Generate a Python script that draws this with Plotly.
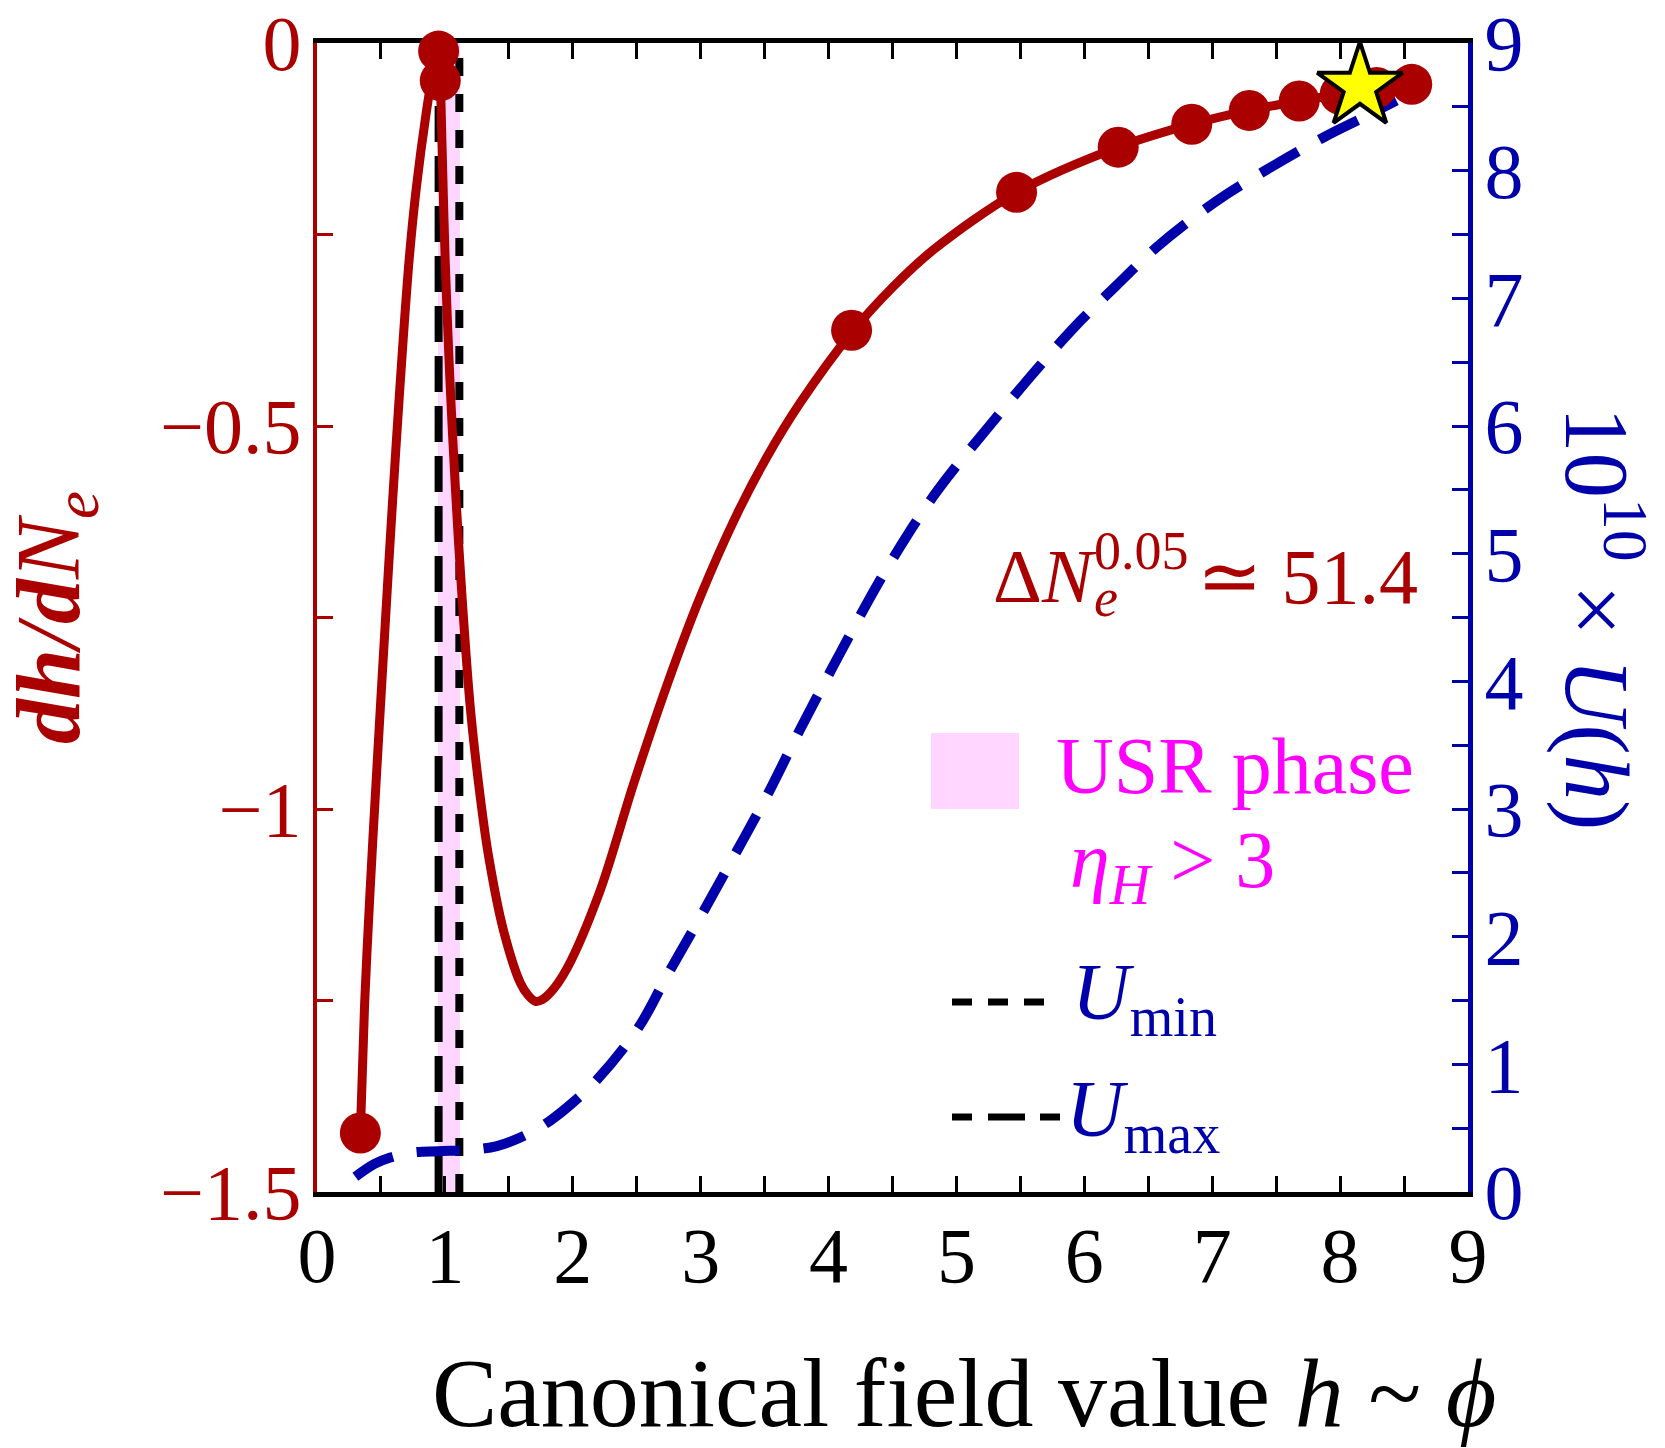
import plotly.graph_objects as go

# ---------------- data ----------------
# dh/dNe along the trajectory (left axis)
red_line_x = [0.339, 0.372, 0.414, 0.462, 0.512, 0.563, 0.617, 0.675, 0.722, 0.776, 0.855,
              0.89, 0.951, 0.964, 0.979, 1.003, 1.037, 1.081, 1.134, 1.199, 1.277, 1.342,
              1.459, 1.59, 1.65, 1.707, 1.76, 1.824, 1.955, 2.215, 2.476, 2.737, 2.997,
              3.284, 3.516, 3.777, 4.18, 4.506, 4.82, 5.47, 6.265, 6.84, 7.29, 7.68, 8.0,
              8.285, 8.56]
red_line_y = [-1.423, -1.256, -1.11, -0.965, -0.82, -0.675, -0.529, -0.384, -0.28, -0.19,
              -0.09, -0.054, -0.0106, -0.049, -0.142, -0.287, -0.432, -0.578, -0.723, -0.868,
              -0.985, -1.062, -1.159, -1.227, -1.243, -1.251, -1.249, -1.240, -1.208, -1.106,
              -0.967, -0.838, -0.723, -0.615, -0.541, -0.47, -0.378, -0.318, -0.27, -0.195,
              -0.136, -0.106, -0.088, -0.0757, -0.067, -0.058, -0.054]

# markers on the dh/dNe curve
dot_x = [0.339, 0.951, 0.964, 4.18, 5.47, 6.265, 6.84, 7.29, 7.68, 8.0, 8.285, 8.56]
dot_y = [-1.423, -0.0106, -0.049, -0.375, -0.195, -0.136, -0.106, -0.088, -0.0757, -0.067, -0.058, -0.054]

# pivot-scale star
star_x = [8.155]
star_y = [-0.057]

# potential 10^10 x U(h) (right axis)
pot_x = [0.30, 0.45, 0.573, 0.75, 0.95, 1.2, 1.407, 1.62, 1.824, 2.0, 2.19, 2.515, 2.74,
         2.99, 3.255, 3.516, 3.776, 4.09, 4.43, 4.82, 5.29, 5.65, 5.966, 6.25, 6.565,
         7.03, 7.43, 7.87, 8.21, 8.44]
pot_y = [0.12, 0.22, 0.27, 0.31, 0.32, 0.33, 0.36, 0.44, 0.56, 0.70, 0.88, 1.29, 1.70,
         2.14, 2.62, 3.10, 3.62, 4.22, 4.84, 5.45, 6.04, 6.47, 6.82, 7.10, 7.40,
         7.76, 8.01, 8.26, 8.43, 8.55]

# special field values
h_umax = 0.951
h_umin = 1.113
usr_band = [0.946, 1.118]

# ticks
x_ticks = [0, 1, 2, 3, 4, 5, 6, 7, 8, 9]
x_ticktext = ["0", "1", "2", "3", "4", "5", "6", "7", "8", "9"]
left_ticks = [0, -0.5, -1, -1.5]
left_ticktext = ["0", "\u22120.5", "\u22121", "\u22121.5"]
right_ticks = [0, 1, 2, 3, 4, 5, 6, 7, 8, 9]
right_ticktext = ["0", "1", "2", "3", "4", "5", "6", "7", "8", "9"]

# ---------------- style ----------------
RED = "#AA0000"
BLUE = "#0000AA"
MAG = "#FF00FF"
PINK = "#FFD6FF"
FONT = "Liberation Serif"

W, H = 1665, 1448
PL, PR, PT, PB = 317, 1468, 43, 1192


def px(xp):
    return (xp - PL) / (PR - PL)


def py(yp):
    return (PB - yp) / (PB - PT)


fig = go.Figure()

# vertical U_max / U_min lines (on the potential axis y)
fig.add_trace(go.Scatter(x=[h_umax, h_umax], y=[0, 9], mode="lines", yaxis="y",
                         line=dict(color="black", width=8, dash="36px,14px"),
                         showlegend=False, hoverinfo="skip"))
fig.add_trace(go.Scatter(x=[h_umin, h_umin], y=[0, 9], mode="lines", yaxis="y",
                         line=dict(color="black", width=8, dash="18px,18px"),
                         showlegend=False, hoverinfo="skip"))

# potential (blue dashed)
fig.add_trace(go.Scatter(x=pot_x, y=pot_y, mode="lines", yaxis="y",
                         line=dict(color=BLUE, width=10, dash="43px,24px", shape="spline",
                                   smoothing=1.0),
                         showlegend=False, hoverinfo="skip"))

# dh/dNe curve (red) on y2
fig.add_trace(go.Scatter(x=red_line_x, y=red_line_y, mode="lines", yaxis="y2",
                         line=dict(color=RED, width=9, shape="spline", smoothing=0.9),
                         showlegend=False, hoverinfo="skip", cliponaxis=False))
fig.add_trace(go.Scatter(x=dot_x, y=dot_y, mode="markers", yaxis="y2",
                         marker=dict(color=RED, size=41, line=dict(width=0)),
                         showlegend=False, hoverinfo="skip", cliponaxis=False))
fig.add_trace(go.Scatter(x=star_x, y=star_y, mode="markers", yaxis="y2",
                         marker=dict(symbol="star", color="#FFFF00", size=64,
                                     line=dict(color="black", width=4)),
                         showlegend=False, hoverinfo="skip", cliponaxis=False))

tickfont = dict(family=FONT, size=78)

fig.update_layout(
    width=W, height=H,
    margin=dict(l=PL, r=W - PR, t=PT, b=H - PB, pad=0, autoexpand=False),
    paper_bgcolor="white", plot_bgcolor="white",
    showlegend=False,
    xaxis=dict(range=[0, 9], showgrid=False, zeroline=False, automargin=False,
               showline=True, linecolor="black", linewidth=5, mirror="ticks",
               ticks="inside", ticklen=16, tickwidth=3, tickcolor="black",
               tickvals=x_ticks, ticktext=x_ticktext, ticklabelstandoff=-9,
               tickfont=dict(tickfont, color="black"),
               minor=dict(dtick=0.5, tick0=0, ticks="inside", ticklen=16, tickwidth=3,
                          tickcolor="black", showgrid=False),
               layer="below traces"),
    yaxis=dict(range=[0, 9], side="right", showgrid=False, zeroline=False, automargin=False,
               showline=True, linecolor=BLUE, linewidth=5,
               ticks="inside", ticklen=16, tickwidth=3, tickcolor=BLUE,
               tickvals=right_ticks, ticktext=right_ticktext, ticklabelstandoff=-4,
               tickfont=dict(tickfont, color=BLUE),
               minor=dict(dtick=0.5, tick0=0, ticks="inside", ticklen=16, tickwidth=3,
                          tickcolor=BLUE, showgrid=False),
               layer="below traces"),
    yaxis2=dict(range=[-1.5, 0], side="left", overlaying="y", showgrid=False, zeroline=False,
                automargin=False,
                showline=True, linecolor=RED, linewidth=4,
                ticks="inside", ticklen=16, tickwidth=3, tickcolor=RED,
                tickvals=left_ticks, ticktext=left_ticktext, ticklabelstandoff=-4,
                tickfont=dict(tickfont, color=RED),
                minor=dict(dtick=0.25, tick0=0, ticks="inside", ticklen=16, tickwidth=3,
                           tickcolor=RED, showgrid=False),
                layer="below traces"),
)

# USR band
fig.add_shape(type="rect", xref="x", yref="paper", x0=usr_band[0], x1=usr_band[1],
              y0=0, y1=1, fillcolor=PINK, line=dict(width=0), layer="below")

# legend-like items
fig.add_shape(type="rect", xref="paper", yref="paper", x0=px(931), x1=px(1019),
              y0=py(809), y1=py(733), fillcolor=PINK, line=dict(width=0))
fig.add_shape(type="line", xref="paper", yref="paper", x0=px(952), x1=px(1046),
              y0=py(1002), y1=py(1002), line=dict(color="black", width=7, dash="20px,16px"))
fig.add_shape(type="line", xref="paper", yref="paper", x0=px(952), x1=px(1060),
              y0=py(1117), y1=py(1117),
              line=dict(color="black", width=7, dash="20px,16px,37px,15px,20px,200px"))

ann = []
ann.append(dict(text="USR phase", x=px(1054), y=py(766), xanchor="left", yanchor="middle",
                font=dict(family=FONT, size=80, color=MAG)))
ann.append(dict(text="<i>\u03b7</i><sub><i>H</i></sub> > 3", x=px(1068), y=py(866),
                xanchor="left", yanchor="middle", font=dict(family=FONT, size=80, color=MAG)))
ann.append(dict(text="<i>U</i><sub>min</sub>", x=px(1070), y=py(998), xanchor="left",
                yanchor="middle", font=dict(family=FONT, size=80, color=BLUE)))
ann.append(dict(text="<i>U</i><sub>max</sub>", x=px(1064), y=py(1115), xanchor="left",
                yanchor="middle", font=dict(family=FONT, size=80, color=BLUE)))
# Delta N_e^{0.05} ~ 51.4 (superscript stacked over the subscript)
ann.append(dict(text="\u0394<i>N</i>", x=px(991), y=py(576), xanchor="left",
                yanchor="middle", font=dict(family=FONT, size=76, color=RED)))
ann.append(dict(text="0.05", x=px(1092), y=py(551), xanchor="left",
                yanchor="middle", font=dict(family=FONT, size=54, color=RED)))
ann.append(dict(text="<i>e</i>", x=px(1092), y=py(598), xanchor="left",
                yanchor="middle", font=dict(family=FONT, size=54, color=RED)))
ann.append(dict(text="\u2243 51.4", x=px(1420), y=py(576), xanchor="right",
                yanchor="middle", font=dict(family=FONT, size=78, color=RED)))
# axis titles
ann.append(dict(text="Canonical field value <i>h</i> ~ <i>\u03d5</i>", x=px(964), y=py(1393),
                xanchor="center", yanchor="middle",
                font=dict(family=FONT, size=98, color="black")))
ann.append(dict(text="<b><i>dh</i></b><i>/</i><b><i>d</i></b><i>N</i><sub><i>e</i></sub>",
                x=px(55), y=py(618), xanchor="center", yanchor="middle", textangle=-90,
                font=dict(family=FONT, size=90, color=RED)))
ann.append(dict(text="10<sup>10</sup> \u00d7 <i>U</i>(<i>h</i>)", x=px(1604), y=py(618),
                xanchor="center", yanchor="middle", textangle=90,
                font=dict(family=FONT, size=91, color=BLUE)))
for a in ann:
    a.update(xref="paper", yref="paper", showarrow=False)
fig.update_layout(annotations=ann)

fig.write_html("out.html")
